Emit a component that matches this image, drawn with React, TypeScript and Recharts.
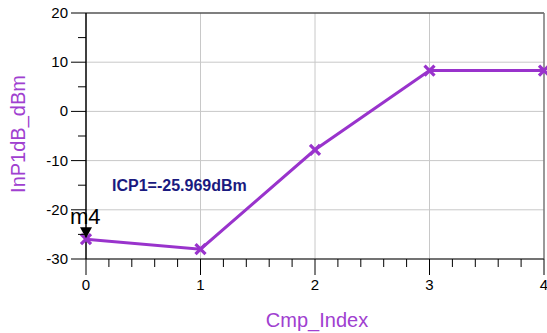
import React from 'react';
import { LineChart, Line, XAxis, YAxis, ReferenceLine, ReferenceDot } from 'recharts';

const cmpIndex = [0, 1, 2, 3, 4];
const inP1dB = [-25.969, -28.0, -7.8, 8.3, 8.3];
const xTicks = [0, 0.2, 0.4, 0.6, 0.8, 1, 1.2, 1.4, 1.6, 1.8, 2, 2.2, 2.4, 2.6, 2.8, 3, 3.2, 3.4, 3.6, 3.8, 4];
const yTicks = [-30, -25, -20, -15, -10, -5, 0, 5, 10, 15, 20];
const xMajor = [0, 1, 2, 3, 4];
const yMajor = [-30, -20, -10, 0, 10, 20];
const xGrid = [1, 2, 3];
const yGrid = [-20, -10, 0, 10];
const markerName = 'm4';
const markerX = 0;
const markerY = -25.969;
const markerText = 'ICP1=-25.969dBm';

const data = cmpIndex.map((c, i) => ({ c, v: inP1dB[i] }));

const FONT = '"Liberation Sans", Arial, sans-serif';
const PURPLE = '#9933CC';
const TITLE = '#A040D0';

const isMajor = (v: number, list: number[]) => list.some((m) => Math.abs(m - v) < 1e-6);

const YTick = (props: any) => {
  const { x, y, payload } = props;
  const major = isMajor(payload.value, yMajor);
  return (
    <g>
      <line x1={x - (major ? 15 : 8)} x2={x} y1={y} y2={y} stroke="#000" strokeWidth={1} />
      {major && (
        <text x={x - 18} y={y + 5} textAnchor="end" fontSize={15} fill="#000" fontFamily={FONT}>
          {payload.value}
        </text>
      )}
    </g>
  );
};

const XTick = (props: any) => {
  const { x, y, payload } = props;
  const major = isMajor(payload.value, xMajor);
  return (
    <g>
      <line x1={x} x2={x} y1={y} y2={y + (major ? 16 : 8)} stroke="#000" strokeWidth={1} />
      {major && (
        <text x={x} y={y + 31} textAnchor="middle" fontSize={15} fill="#000" fontFamily={FONT}>
          {payload.value}
        </text>
      )}
    </g>
  );
};

const XMark = (props: any) => {
  const { cx, cy, index } = props;
  if (cx == null || cy == null) return <g key={index} />;
  const s = 5;
  return (
    <path
      key={index}
      d={`M${cx - s},${cy - s}L${cx + s},${cy + s}M${cx + s},${cy - s}L${cx - s},${cy + s}`}
      stroke={PURPLE}
      strokeWidth={3.2}
      fill="none"
    />
  );
};

const MarkerShape = (props: any) => {
  const { cx, cy } = props;
  return (
    <g>
      <polygon points={`${cx - 6},${cy - 12} ${cx + 6},${cy - 12} ${cx},${cy - 1}`} fill="#000" />
      <text x={cx - 16} y={cy - 15} fontSize={22} fill="#000" fontFamily={FONT}>
        {markerName}
      </text>
      <text x={cx + 26} y={cy - 48} fontSize={16} fontWeight="bold" fill="#1a1a80" fontFamily={FONT}>
        {markerText}
      </text>
    </g>
  );
};

export default function App() {
  return (
    <div style={{ position: 'absolute', left: 0, top: 0, background: '#fff' }}>
      <LineChart
        width={547}
        height={333}
        data={data}
        margin={{ top: 13, right: 3, left: 0, bottom: 0 }}
        style={{ fontFamily: FONT }}
      >
        <XAxis
          dataKey="c"
          type="number"
          domain={[0, 4]}
          ticks={xTicks}
          interval={0}
          height={74}
          tickSize={0}
          tickMargin={0}
          tick={XTick}
          axisLine={{ stroke: '#444', strokeWidth: 1.5 }}
          label={{
            content: (p: any) => {
              const vb = p.viewBox;
              return (
                <text x={vb.x + vb.width / 2 + 2} y={vb.y + 68} textAnchor="middle" fontSize={20} fill={TITLE} fontFamily={FONT}>
                  Cmp_Index
                </text>
              );
            },
          }}
        />
        <YAxis
          type="number"
          domain={[-30, 20]}
          ticks={yTicks}
          interval={0}
          width={86}
          tickSize={0}
          tickMargin={0}
          tick={YTick}
          axisLine={{ stroke: '#000', strokeWidth: 1.5 }}
          label={{
            content: (p: any) => {
              const vb = p.viewBox;
              const cx = 25;
              const cy = vb.y + vb.height / 2 - 2;
              return (
                <text x={cx} y={cy} transform={`rotate(-90 ${cx} ${cy})`} textAnchor="middle" fontSize={20} fill={TITLE} fontFamily={FONT}>
                  InP1dB_dBm
                </text>
              );
            },
          }}
        />
        {xGrid.map((g) => (
          <ReferenceLine key={'x' + g} x={g} stroke="#c8c8c8" strokeWidth={1} />
        ))}
        {yGrid.map((g) => (
          <ReferenceLine key={'y' + g} y={g} stroke="#c8c8c8" strokeWidth={1} />
        ))}
        <ReferenceLine y={20} stroke="#555" strokeWidth={1.5} />
        <ReferenceLine x={4} stroke="#777" strokeWidth={1.5} />
        <Line
          type="linear"
          dataKey="v"
          stroke={PURPLE}
          strokeWidth={3}
          dot={XMark}
          activeDot={false}
          isAnimationActive={false}
        />
        <ReferenceDot x={markerX} y={markerY} r={0} shape={MarkerShape} ifOverflow="visible" />
      </LineChart>
    </div>
  );
}
